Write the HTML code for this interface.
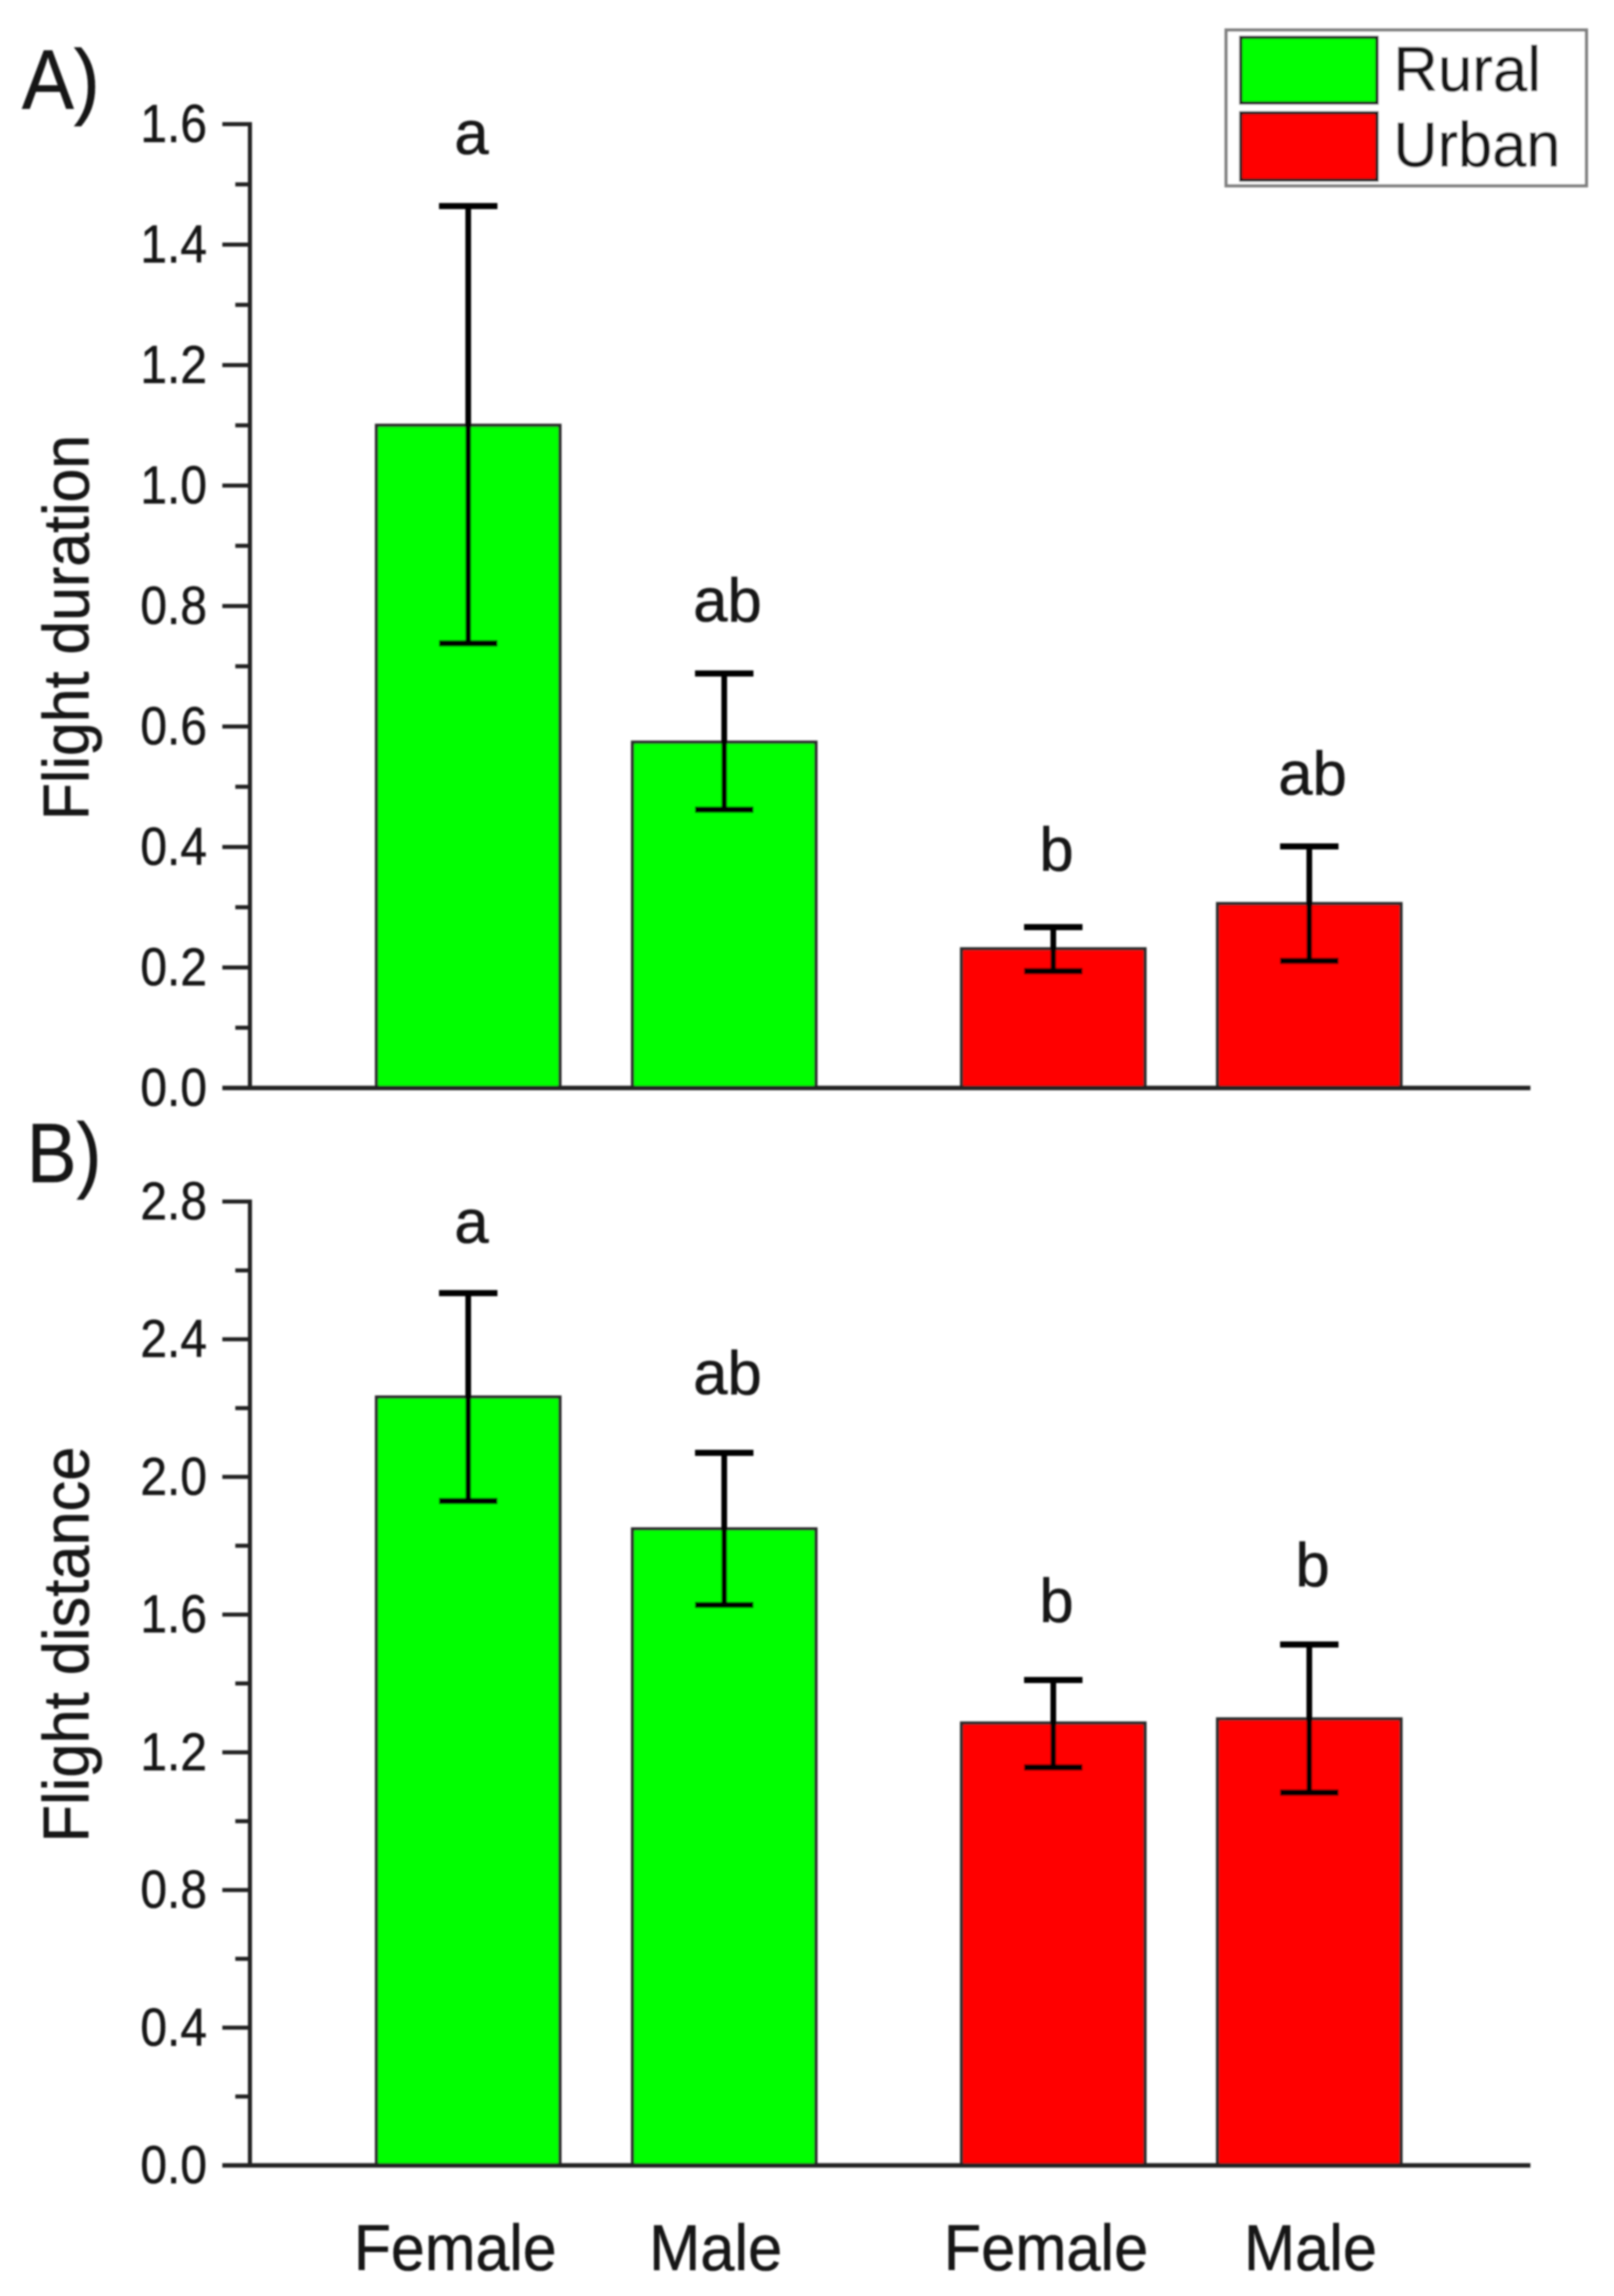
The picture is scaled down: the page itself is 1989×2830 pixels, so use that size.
<!DOCTYPE html>
<html lang="en">
<head>
<meta charset="utf-8">
<title>Flight duration and distance by habitat and sex</title>
<style>
  html, body { margin: 0; padding: 0; background: #ffffff; }
  body { width: 1989px; height: 2830px; overflow: hidden; }
  svg { display: block; }
  text { font-family: "Liberation Sans", Arial, sans-serif; fill: #161616; stroke: #161616; stroke-width: 0.6; }
</style>
</head>
<body>
<svg id="figure" xmlns="http://www.w3.org/2000/svg" width="1989" height="2830" viewBox="0 0 1989 2830">
  <defs>
    <filter id="soft" x="-2%" y="-2%" width="104%" height="104%">
      <feGaussianBlur stdDeviation="1.1"/>
    </filter>
  </defs>
  <rect x="0" y="0" width="1989" height="2830" fill="#ffffff"/>
  <g id="plot" filter="url(#soft)">
    <text x="27" y="134" font-size="104" textLength="96" lengthAdjust="spacingAndGlyphs">A)</text>
    <text x="33" y="1457" font-size="104" textLength="92" lengthAdjust="spacingAndGlyphs">B)</text>
    <text transform="translate(109 1011) rotate(-90)" font-size="80" textLength="475" lengthAdjust="spacingAndGlyphs">Flight duration</text>
    <text transform="translate(109 2271) rotate(-90)" font-size="80" textLength="488" lengthAdjust="spacingAndGlyphs">Flight distance</text>

    <g>
      <text x="436" y="2798" font-size="80" textLength="250" lengthAdjust="spacingAndGlyphs">Female</text>
      <text x="800" y="2798" font-size="80" textLength="164" lengthAdjust="spacingAndGlyphs">Male</text>
      <text x="1163" y="2798" font-size="80" textLength="252" lengthAdjust="spacingAndGlyphs">Female</text>
      <text x="1533" y="2798" font-size="80" textLength="164" lengthAdjust="spacingAndGlyphs">Male</text>
    </g>

    <g>
      <rect x="1511" y="37" width="444" height="192" fill="#ffffff" stroke="#808080" stroke-width="4"/>
      <rect x="1529" y="46" width="168" height="81" fill="#00ff00" stroke="#1a1a1a" stroke-width="4"/>
      <rect x="1529" y="139" width="168" height="83" fill="#ff0000" stroke="#1a1a1a" stroke-width="4"/>
      <text x="1717" y="112" font-size="78" textLength="182" lengthAdjust="spacingAndGlyphs">Rural</text>
      <text x="1717" y="205" font-size="78" textLength="206" lengthAdjust="spacingAndGlyphs">Urban</text>
    </g>
  </g>
</svg>
<script>
// ---- Data ----
const groups = ['Rural Female', 'Rural Male', 'Urban Female', 'Urban Male'];
const habitats = ['rural', 'rural', 'urban', 'urban'];

const durationMeans = [1.10, 0.574, 0.231, 0.306];
const durationHigh = [1.464, 0.688, 0.267, 0.401];
const durationLow = [0.738, 0.462, 0.194, 0.211];
const durationLetters = ['a', 'ab', 'b', 'ab'];
const durationTicks = ['0.0', '0.2', '0.4', '0.6', '0.8', '1.0', '1.2', '1.4', '1.6'];

const distanceMeans = [2.232, 1.849, 1.285, 1.297];
const distanceHigh = [2.534, 2.07, 1.41, 1.513];
const distanceLow = [1.93, 1.628, 1.156, 1.083];
const distanceLetters = ['a', 'ab', 'b', 'b'];
const distanceTicks = ['0.0', '0.4', '0.8', '1.2', '1.6', '2.0', '2.4', '2.8'];

// ---- Axis functions ----
const NS = 'http://www.w3.org/2000/svg';
const plot = document.getElementById('plot');
const AXIS_X = 308;
const AXIS_END = 1886;
const BAR_W = 226;
const CAP_W = 72;
const COLORS = { rural: '#00ff00', urban: '#ff0000' };

// Category slots: the two habitat groups are separated by a wider gap.
function xCenter(i) {
  const habitatGap = i >= 2 ? 90 : 0;
  return 577 + i * 315.5 + habitatGap;
}
function yScale(bottom, top, max) {
  return function (v) { return bottom - (v / max) * (bottom - top); };
}
function make(tag, attrs, parent) {
  const node = document.createElementNS(NS, tag);
  for (const k in attrs) node.setAttribute(k, attrs[k]);
  parent.appendChild(node);
  return node;
}
function line(x1, y1, x2, y2, stroke, width, parent) {
  return make('line', { x1: x1, y1: y1, x2: x2, y2: y2, stroke: stroke, 'stroke-width': width }, parent);
}

// Letters sit above the upper error cap; the gap varies a little per panel label.
function drawPanel(prefix, bottom, top, means, high, low, letters, ticks, liftFor) {
  const max = parseFloat(ticks[ticks.length - 1]);
  const y = yScale(bottom, top, max);
  const g = make('g', {}, plot);
  
  

  means.forEach(function (m, i) {
    const cx = xCenter(i);
    const bar = make('rect', {
      x: cx - BAR_W / 2, y: y(m), width: BAR_W, height: bottom - y(m),
      fill: COLORS[habitats[i]], stroke: '#2a2a2a', 'stroke-width': 4
    }, g);
    
    

    const stem = line(cx, y(high[i]), cx, y(low[i]), '#000000', 7, g);
    
    

    const capHigh = line(cx - CAP_W / 2, y(high[i]), cx + CAP_W / 2, y(high[i]), '#000000', 7.5, g);
    
    

    const capLow = line(cx - CAP_W / 2, y(low[i]), cx + CAP_W / 2, y(low[i]), '#000000', 7.5, g);
    
    

    const letter = make('text', {
      x: cx + 4, y: y(high[i]) - liftFor(letters[i], i), 'font-size': 76, 'text-anchor': 'middle'
    }, g);
    letter.textContent = letters[i];
    
    
  });

  const yAxis = line(AXIS_X, top - 2.5, AXIS_X, bottom + 2.5, '#222222', 5, g);
  
  

  const xAxis = line(274, bottom, AXIS_END, bottom, '#222222', 5.5, g);
  
  

  ticks.forEach(function (label, i) {
    const v = parseFloat(label);
    if (i > 0) {
      const major = line(274, y(v), AXIS_X, y(v), '#222222', 5, g);
      
      
    }
    if (i < ticks.length - 1) {
      const mid = (v + parseFloat(ticks[i + 1])) / 2;
      const minor = line(290, y(mid), AXIS_X, y(mid), '#222222', 5, g);
      
      
    }
    const tickText = make('text', {
      x: 255, y: y(v) + 22, 'font-size': 66, 'text-anchor': 'end',
      textLength: 82, lengthAdjust: 'spacingAndGlyphs'
    }, g);
    tickText.textContent = label;
    
    
  });
}

// Lift above the cap: narrower for the first bar of panel B and the rural "ab", wider for "b".
drawPanel('duration', 1341, 153, durationMeans, durationHigh, durationLow, durationLetters, durationTicks,
  function (letter) { return letter === 'b' ? 70 : 64; });
drawPanel('distance', 2669, 1481, distanceMeans, distanceHigh, distanceLow, distanceLetters, distanceTicks,
  function (letter) { return letter === 'a' ? 62 : 72; });
</script>
</body>
</html>
